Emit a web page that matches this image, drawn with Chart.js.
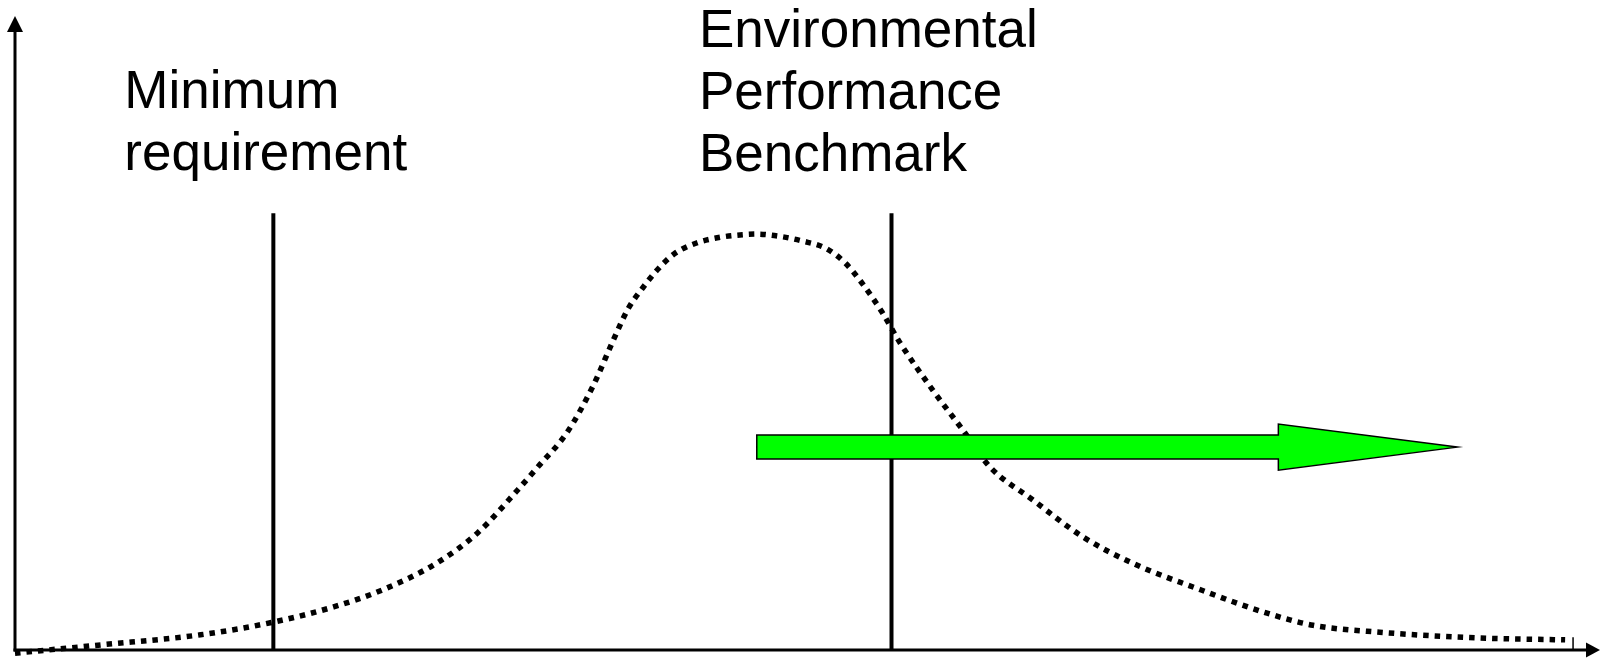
<!DOCTYPE html>
<html>
<head>
<meta charset="utf-8">
<title>Environmental Performance Benchmark</title>
<script src="https://cdn.jsdelivr.net/npm/chart.js@4.4.1/dist/chart.umd.min.js"></script>
<style>
  html, body { margin: 0; padding: 0; background: #fff; }
  canvas { display: block; }
</style>
</head>
<body>
<canvas id="chart" width="1602" height="658"></canvas>
<script>
// distribution of performance (x = performance, y = share of companies), both 0..100
const curveX = [0, 5.4, 11.7, 16.3, 20.1, 23.2, 26.6, 29.2, 31.7, 33.1, 34.8, 36.5, 37.7, 38.7, 39.6, 40.5, 41.6, 43.0, 44.5, 45.9, 46.8, 48.1, 49.7, 51.2, 52.4, 53.4, 54.7, 55.8, 57.9, 59.8, 61.5, 64.2, 67.4, 70.5, 74.8, 79.0, 81.9, 86.1, 92.4, 97.8]
const curveY = [-0.5, 0.8, 2.4, 4.4, 6.8, 9.5, 13.7, 18.5, 25.2, 29.2, 34.2, 41.8, 48.6, 53.9, 57.1, 59.9, 62.5, 64.2, 65.1, 65.5, 65.6, 65.3, 64.5, 63.3, 61.0, 58.0, 53.3, 48.6, 41.0, 34.7, 28.9, 23.7, 17.8, 13.7, 9.5, 5.8, 3.9, 2.8, 1.9, 1.6]

// thresholds
const minRequirement = 16.3
const benchmark = 55.3
const thresholdTop = 68.9

// improvement arrow
const arrowX = [46.8, 91.0]
const arrowLevel = 32.0

const axisEnd = 98.3
const labels = {
  min: ["Minimum", "requirement"],
  bench: ["Environmental", "Performance", "Benchmark"]
}

const line = (x) => [{x: x, y: 0}, {x: x, y: thresholdTop}]

const sketch = {
  id: "sketch",
  beforeDatasetsDraw(chart) {
    const {ctx, chartArea: a, scales: {x, y}} = chart
    const x0 = a.left, y0 = y.getPixelForValue(0)
    ctx.save()
    ctx.strokeStyle = "#000"
    ctx.fillStyle = "#000"
    ctx.lineWidth = 3
    // y axis
    ctx.beginPath()
    ctx.moveTo(x0, y0 + 1.5)
    ctx.lineTo(x0, a.top + 14)
    ctx.stroke()
    ctx.beginPath()
    ctx.moveTo(x0, a.top)
    ctx.lineTo(x0 - 8, a.top + 16)
    ctx.lineTo(x0 + 8, a.top + 16)
    ctx.closePath()
    ctx.fill()
    // x axis
    const xr = chart.width - 2
    ctx.beginPath()
    ctx.moveTo(x0 - 1.5, y0)
    ctx.lineTo(xr - 12, y0)
    ctx.stroke()
    ctx.beginPath()
    ctx.moveTo(xr, y0)
    ctx.lineTo(xr - 14, y0 - 7.5)
    ctx.lineTo(xr - 14, y0 + 7.5)
    ctx.closePath()
    ctx.fill()
    // small end mark
    const xe = x.getPixelForValue(axisEnd)
    ctx.lineWidth = 1.5
    ctx.beginPath()
    ctx.moveTo(xe, y0)
    ctx.lineTo(xe, y.getPixelForValue(2))
    ctx.stroke()
    ctx.restore()
  },
  afterDatasetsDraw(chart) {
    const {ctx, scales: {x, y}} = chart
    const xs = x.getPixelForValue(arrowX[0])
    const xt = x.getPixelForValue(arrowX[1])
    const yc = y.getPixelForValue(arrowLevel)
    const xh = xt - 179
    ctx.save()
    ctx.beginPath()
    ctx.moveTo(xs, yc - 12)
    ctx.lineTo(xh, yc - 12)
    ctx.lineTo(xh, yc - 23)
    ctx.lineTo(xt, yc)
    ctx.lineTo(xh, yc + 23)
    ctx.lineTo(xh, yc + 12)
    ctx.lineTo(xs, yc + 12)
    ctx.closePath()
    ctx.fillStyle = "#00ff00"
    ctx.fill()
    ctx.lineWidth = 1.5
    ctx.strokeStyle = "#000"
    ctx.lineJoin = "miter"
    ctx.stroke()

    // labels
    ctx.fillStyle = "#000"
    ctx.font = "53px 'Liberation Sans', Arial, sans-serif"
    ctx.textBaseline = "alphabetic"
    ctx.textAlign = "left"
    const lh = 62
    labels.min.forEach((t, i) => ctx.fillText(t, x.getPixelForValue(6.9), 108 + i * lh))
    labels.bench.forEach((t, i) => ctx.fillText(t, x.getPixelForValue(43.15), 47 + i * lh))
    ctx.restore()
  }
}

new Chart(document.getElementById("chart"), {
  type: "line",
  data: {
    datasets: [
      {
        data: curveX.map((v, i) => ({x: v, y: curveY[i]})),
        borderColor: "#000",
        borderWidth: 5.5,
        borderDash: [5.5, 6],
        borderCapStyle: "butt",
        cubicInterpolationMode: "monotone",
        pointRadius: 0,
        fill: false,
        clip: false
      },
      {data: line(minRequirement), borderColor: "#000", borderWidth: 4, pointRadius: 0, clip: false},
      {data: line(benchmark), borderColor: "#000", borderWidth: 4, pointRadius: 0, clip: false}
    ]
  },
  options: {
    responsive: false,
    animation: false,
    layout: {padding: {left: 15, top: 16, right: 2, bottom: 8}},
    plugins: {legend: {display: false}, tooltip: {enabled: false}},
    scales: {
      x: {type: "linear", min: 0, max: 100, display: false},
      y: {min: 0, max: 100, display: false}
    }
  },
  plugins: [sketch]
})
</script>
</body>
</html>
